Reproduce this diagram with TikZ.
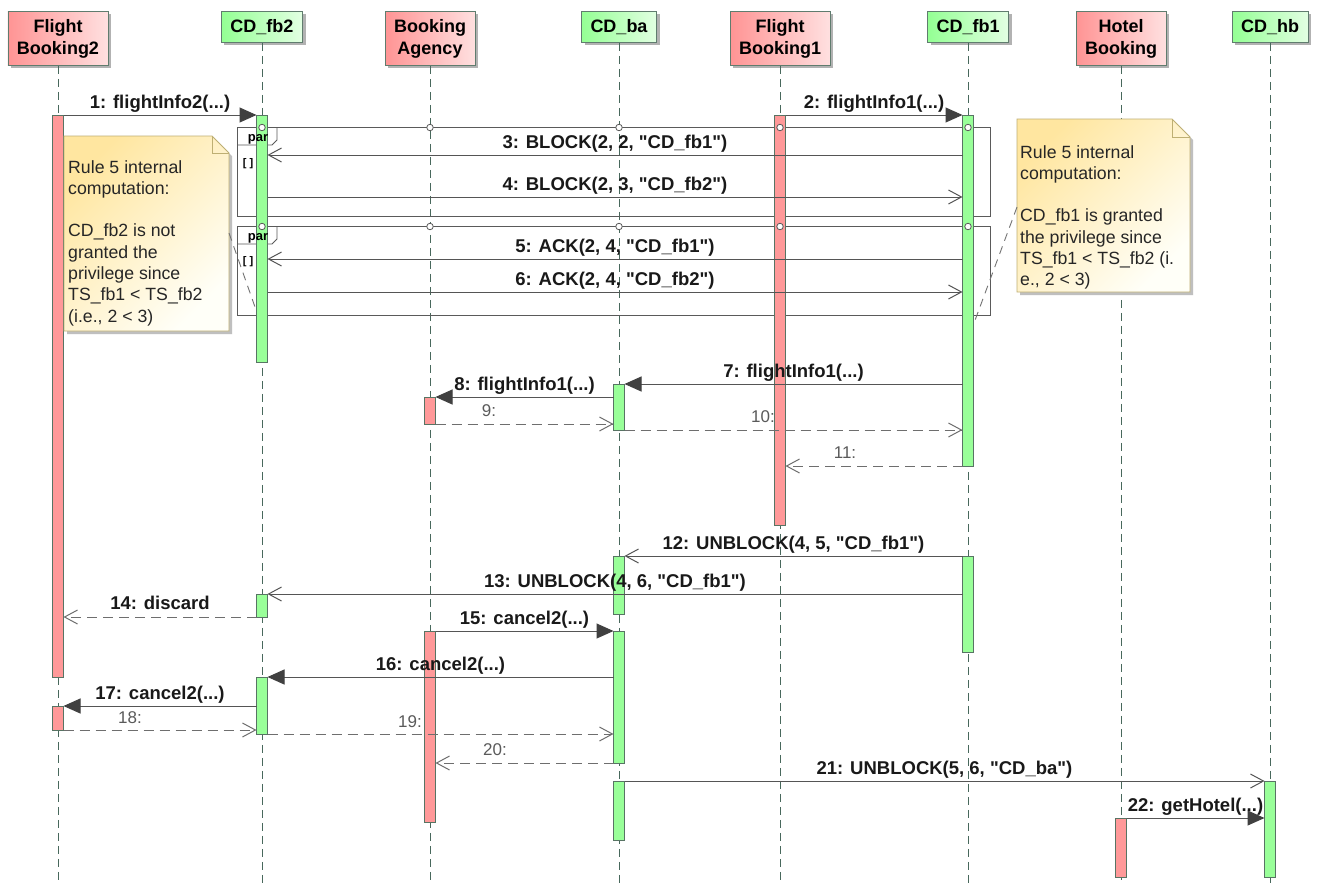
\documentclass[tikz,border=0pt]{standalone}
\usepackage{fontspec}
\setmainfont{Liberation Sans}[Ligatures=TeXOff]
\usetikzlibrary{arrows.meta,shadows}
\definecolor{lifec}{RGB}{72,104,92}
\definecolor{boxc}{RGB}{96,124,110}
\definecolor{rhA}{RGB}{255,148,148}
\definecolor{rhB}{RGB}{255,224,224}
\definecolor{ghA}{RGB}{148,255,148}
\definecolor{ghB}{RGB}{226,255,226}
\definecolor{actR}{RGB}{255,153,153}
\definecolor{actG}{RGB}{153,255,153}
\definecolor{actB}{RGB}{88,116,100}
\definecolor{msgc}{RGB}{85,85,85}
\definecolor{headc}{RGB}{64,64,64}
\definecolor{retc}{RGB}{110,110,110}
\definecolor{labc}{RGB}{25,25,25}
\definecolor{retlab}{RGB}{90,90,90}
\definecolor{noteA}{RGB}{255,230,160}
\definecolor{noteB}{RGB}{255,255,248}
\definecolor{noteD}{RGB}{190,175,115}
\definecolor{framec}{RGB}{90,90,90}
\begin{document}
\begin{tikzpicture}[x=1pt,y=-1pt,
  hbox/.style={draw=boxc, line width=0.9pt, font=\bfseries\fontsize{18}{22}\selectfont, align=center, inner xsep=9pt, inner ysep=0pt, anchor=north, drop shadow={shadow xshift=3pt, shadow yshift=-3pt, fill=black!30, opacity=1}},
  rhead/.style={hbox, left color=rhA, right color=rhB, minimum height=54pt},
  ghead/.style={hbox, left color=ghA, right color=ghB, minimum height=31pt},
  lifeline/.style={draw=lifec, line width=0.8pt, dash pattern=on 8pt off 5pt},
  actr/.style={draw=actB, fill=actR, line width=0.8pt},
  actg/.style={draw=actB, fill=actG, line width=0.8pt},
  syncm/.style={draw=msgc, line width=1pt, -{Triangle[length=17pt,width=15pt,fill=headc,color=headc]}},
  asyncm/.style={draw=msgc, line width=1pt, -{Straight Barb[length=13pt,width=14pt]}},
  retm/.style={draw=retc, line width=1pt, dash pattern=on 10pt off 6pt, -{Straight Barb[length=13pt,width=14pt]}},
  mlab/.style={font=\bfseries\fontsize{18.5}{22}\selectfont, text=labc, anchor=base, inner sep=0pt},
  rlab/.style={font=\fontsize{17}{20}\selectfont, text=retlab, anchor=base, inner sep=0pt},
  frame/.style={draw=framec, line width=0.9pt},
  gate/.style={circle, draw=framec, fill=white, line width=0.8pt, minimum size=6.5pt, inner sep=0pt},
  parlab/.style={font=\bfseries\fontsize{13}{15}\selectfont, anchor=base, inner sep=0pt},
  guardlab/.style={font=\bfseries\fontsize{11}{13}\selectfont, anchor=base, inner sep=0pt},
  notebox/.style={draw=noteD, line width=0.9pt, top color=noteA, bottom color=noteB, shading angle=45, drop shadow={shadow xshift=3pt, shadow yshift=-3pt, fill=black!25, opacity=1}},
  notetext/.style={font=\fontsize{17.7}{21.3}\selectfont, align=left, anchor=north west, inner sep=0pt, text=black!85},
  anchorline/.style={draw=black!55, line width=0.9pt, dash pattern=on 8pt off 6pt},
]
\useasboundingbox (0,0) rectangle (1319,884);
\fill[white] (0,0) rectangle (1319,884);

% lifeline ends
\coordinate (eFB2) at (58,884);
\coordinate (eCDfb2) at (262,884);
\coordinate (eBA) at (430,884);
\coordinate (eCDba) at (619,884);
\coordinate (eFB1) at (780,884);
\coordinate (eCDfb1) at (968,884);
\coordinate (eHB) at (1121,884);
\coordinate (eCDhb) at (1270,884);

% headers
\node[rhead] (hFB2) at (58,11) {Flight\\Booking2};
\node[ghead] (hCDfb2) at (262,11) {CD\_fb2};
\node[rhead] (hBA) at (430,11) {Booking\\Agency};
\node[ghead] (hCDba) at (619,11) {CD\_ba};
\node[rhead] (hFB1) at (780,11) {Flight\\Booking1};
\node[ghead] (hCDfb1) at (968,11) {CD\_fb1};
\node[rhead] (hHB) at (1121,11) {Hotel\\Booking};
\node[ghead] (hCDhb) at (1270,11) {CD\_hb};

% lifelines
\draw[lifeline] (hFB2.south) -- (eFB2);
\draw[lifeline] (hCDfb2.south) -- (eCDfb2);
\draw[lifeline] (hBA.south) -- (eBA);
\draw[lifeline] (hCDba.south) -- (eCDba);
\draw[lifeline] (hFB1.south) -- (eFB1);
\draw[lifeline] (hCDfb1.south) -- (eCDfb1);
\draw[lifeline] (hHB.south) -- (eHB);
\draw[lifeline] (hCDhb.south) -- (eCDhb);

% par frames
\draw[frame] (237,127.5) rectangle (990,216);
\draw[frame] (237,145) -- (272,145) -- (277,140) -- (277,127.5);
\draw[frame] (237,226.5) rectangle (990,315);
\draw[frame] (237,244) -- (272,244) -- (277,239) -- (277,226.5);

% activation bars
\draw[actr] (52.5,115) rectangle (63.5,677);
\draw[actr] (52.5,706) rectangle (63.5,730);
\draw[actg] (256.5,115) rectangle (267.5,362);
\draw[actg] (256.5,594) rectangle (267.5,617);
\draw[actg] (256.5,677) rectangle (267.5,734);
\draw[actr] (424.5,397) rectangle (435.5,424);
\draw[actr] (424.5,631) rectangle (435.5,822);
\draw[actg] (613.5,384) rectangle (624.5,430);
\draw[actg] (613.5,556) rectangle (624.5,614);
\draw[actg] (613.5,631) rectangle (624.5,763);
\draw[actg] (613.5,781) rectangle (624.5,840);
\draw[actr] (774.5,115) rectangle (785.5,525);
\draw[actg] (962.5,115) rectangle (973.5,466);
\draw[actg] (962.5,556) rectangle (973.5,652);
\draw[actr] (1115.5,818) rectangle (1126.5,877);
\draw[actg] (1264.5,781) rectangle (1275.5,877);

% gates
\foreach \gx/\gn in {262/a,430/b,619/c,780/d,968/e}{
  \node[gate] (gt1\gn) at (\gx,127.5) {};
  \node[gate] (gt2\gn) at (\gx,226.5) {};
}
\node[parlab] (par1) at (258,141) {par};
\node[guardlab] (g1) at (248,166) {[ ]};
\node[parlab] (par2) at (258,240) {par};
\node[guardlab] (g2) at (248,264) {[ ]};

% message end points
\coordinate (m1a) at (63.5,115);   \coordinate (m1b) at (256.5,115);
\coordinate (m2a) at (785.5,115);  \coordinate (m2b) at (962.5,115);
\coordinate (m3a) at (962.5,155);  \coordinate (m3b) at (267.5,155);
\coordinate (m4a) at (267.5,197);  \coordinate (m4b) at (962.5,197);
\coordinate (m5a) at (962.5,259);  \coordinate (m5b) at (267.5,259);
\coordinate (m6a) at (267.5,292);  \coordinate (m6b) at (962.5,292);
\coordinate (m7a) at (962.5,384);  \coordinate (m7b) at (624.5,384);
\coordinate (m8a) at (613.5,397);  \coordinate (m8b) at (435.5,397);
\coordinate (m9a) at (435.5,424);  \coordinate (m9b) at (613.5,424);
\coordinate (m10a) at (624.5,430); \coordinate (m10b) at (962.5,430);
\coordinate (m11a) at (962.5,466); \coordinate (m11b) at (785.5,466);
\coordinate (m12a) at (962.5,556); \coordinate (m12b) at (624.5,556);
\coordinate (m13a) at (962.5,594); \coordinate (m13b) at (267.5,594);
\coordinate (m14a) at (256.5,617); \coordinate (m14b) at (63.5,617);
\coordinate (m15a) at (435.5,631); \coordinate (m15b) at (613.5,631);
\coordinate (m16a) at (613.5,677); \coordinate (m16b) at (267.5,677);
\coordinate (m17a) at (256.5,706); \coordinate (m17b) at (63.5,706);
\coordinate (m18a) at (63.5,730);  \coordinate (m18b) at (256.5,730);
\coordinate (m19a) at (267.5,734); \coordinate (m19b) at (613.5,734);
\coordinate (m20a) at (613.5,763); \coordinate (m20b) at (435.5,763);
\coordinate (m21a) at (624.5,781); \coordinate (m21b) at (1264.5,781);
\coordinate (m22a) at (1126.5,818);\coordinate (m22b) at (1264.5,818);

% messages
\draw[syncm] (m1a) -- node[mlab, yshift=7pt] (l1) {1: flightInfo2(...)} (m1b);
\draw[syncm] (m2a) -- node[mlab, yshift=7pt] (l2) {2: flightInfo1(...)} (m2b);
\draw[asyncm] (m3a) -- node[mlab, yshift=7pt] (l3) {3: BLOCK(2, 2, "CD\_fb1")} (m3b);
\draw[asyncm] (m4a) -- node[mlab, yshift=7pt] (l4) {4: BLOCK(2, 3, "CD\_fb2")} (m4b);
\draw[asyncm] (m5a) -- node[mlab, yshift=7pt] (l5) {5: ACK(2, 4, "CD\_fb1")} (m5b);
\draw[asyncm] (m6a) -- node[mlab, yshift=7pt] (l6) {6: ACK(2, 4, "CD\_fb2")} (m6b);
\draw[syncm] (m7a) -- node[mlab, yshift=7pt] (l7) {7: flightInfo1(...)} (m7b);
\draw[syncm] (m8a) -- node[mlab, yshift=7pt] (l8) {8: flightInfo1(...)} (m8b);
\draw[retm] (m9a) -- (m9b);
\node[rlab] (l9) at (489,416) {9:};
\draw[retm] (m10a) -- (m10b);
\node[rlab] (l10) at (763,422) {10:};
\draw[retm] (m11a) -- (m11b);
\node[rlab] (l11) at (845,458) {11:};
\draw[asyncm] (m12a) -- node[mlab, yshift=7pt] (l12) {12: UNBLOCK(4, 5, "CD\_fb1")} (m12b);
\draw[asyncm] (m13a) -- node[mlab, yshift=7pt] (l13) {13: UNBLOCK(4, 6, "CD\_fb1")} (m13b);
\draw[retm] (m14a) -- node[mlab, yshift=8pt] (l14) {14: discard} (m14b);
\draw[syncm] (m15a) -- node[mlab, yshift=7pt] (l15) {15: cancel2(...)} (m15b);
\draw[syncm] (m16a) -- node[mlab, yshift=7pt] (l16) {16: cancel2(...)} (m16b);
\draw[syncm] (m17a) -- node[mlab, yshift=7pt] (l17) {17: cancel2(...)} (m17b);
\draw[retm] (m18a) -- (m18b);
\node[rlab] (l18) at (130,723) {18:};
\draw[retm] (m19a) -- (m19b);
\node[rlab] (l19) at (410,727) {19:};
\draw[retm] (m20a) -- (m20b);
\node[rlab] (l20) at (495,755) {20:};
\draw[asyncm] (m21a) -- node[mlab, yshift=7pt] (l21) {21: UNBLOCK(5, 6, "CD\_ba")} (m21b);
\draw[syncm] (m22a) -- node[mlab, yshift=7pt] (l22) {22: getHotel(...)} (m22b);

% notes
\path[notebox] (64,136) -- (212,136) -- (229,153) -- (229,331) -- (64,331) -- cycle;
\draw[draw=noteD, line width=0.9pt] (212,136) -- (212,153) -- (229,153);
\node[notetext] (nt1) at (68,160) {Rule 5 internal\\computation:\\\mbox{}\\CD\_fb2 is not\\granted the\\privilege since\\TS\_fb1 < TS\_fb2\\(i.e., 2 < 3)};
\coordinate (nL) at (229,233); \coordinate (aL) at (255,307);
\draw[anchorline] (nL) -- (aL);

\path[notebox] (1017,119) -- (1172,119) -- (1190,137) -- (1190,292) -- (1017,292) -- cycle;
\draw[draw=noteD, line width=0.9pt] (1172,119) -- (1172,137) -- (1190,137);
\node[notetext] (nt2) at (1020,145) {Rule 5 internal\\computation:\\\mbox{}\\CD\_fb1 is granted\\the privilege since\\TS\_fb1 < TS\_fb2 (i.\\e., 2 < 3)};
\coordinate (nR) at (1017,207); \coordinate (aR) at (974,323);
\draw[anchorline] (nR) -- (aR);
\end{tikzpicture}
\end{document}
